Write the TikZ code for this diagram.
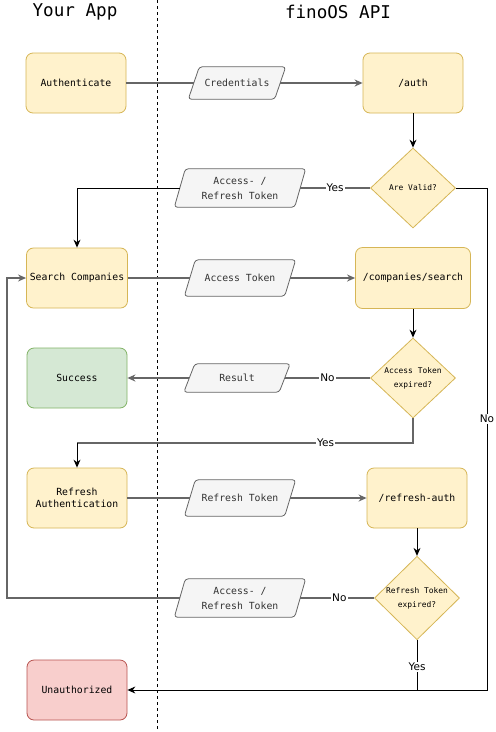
\documentclass[tikz,border=0pt]{standalone}
\usepackage{fontspec}
\setmainfont{DejaVu Sans}
\setmonofont{DejaVu Sans Mono}
\usetikzlibrary{shapes.geometric,arrows.meta,backgrounds}
\definecolor{boxfill}{HTML}{FFF2CC}
\definecolor{boxline}{HTML}{D6B656}
\definecolor{okfill}{HTML}{D5E8D4}
\definecolor{okline}{HTML}{82B366}
\definecolor{errfill}{HTML}{F8CECC}
\definecolor{errline}{HTML}{B85450}
\definecolor{datafill}{HTML}{F5F5F5}
\definecolor{dataline}{HTML}{666666}
\definecolor{datatext}{HTML}{333333}
\tikzset{
  stepbox/.style={draw=boxline, fill=boxfill, rounded corners=7pt, line width=0.8pt,
    minimum width=100pt, minimum height=60pt, align=center,
    font=\ttfamily\fontsize{9.8}{12}\selectfont},
  okbox/.style={stepbox, draw=okline, fill=okfill},
  errbox/.style={stepbox, draw=errline, fill=errfill},
  check/.style={diamond, draw=boxline, fill=boxfill, line width=0.8pt, inner sep=0pt,
    minimum width=85pt, minimum height=80pt, align=center,
    font=\ttfamily\fontsize{7.9}{14}\selectfont},
  data/.style={text=datatext, inner sep=1pt, align=center,
    font=\ttfamily\fontsize{9.8}{15}\selectfont},
  dataframe/.style={draw=dataline, fill=datafill, rounded corners=3pt, line width=0.8pt},
  title/.style={font=\ttfamily\fontsize{17.6}{20}\selectfont},
  flow/.style={draw=dataline, line width=1.3pt, -{Stealth[length=8pt,width=7pt]}},
  link/.style={line width=0.9pt, -{Stealth[length=8pt,width=7pt]}},
  yesno/.style={fill=white, inner sep=1pt, font=\fontsize{10.5}{12}\selectfont}
}
% slanted frame behind a data node
\newcommand{\slantframe}[1]{%
  \begin{pgfonlayer}{background}
    \draw[dataframe] ([xshift=-5.5pt]#1.south west) -- ([xshift=5.5pt]#1.north west)
      -- ([xshift=5.5pt]#1.north east) -- ([xshift=-5.5pt]#1.south east) -- cycle;
  \end{pgfonlayer}}
\begin{document}
\begin{tikzpicture}[x=1pt, y=-1pt]
  \begin{pgfonlayer}{background}
    \fill[white] (0,0) rectangle (496,732);
  \end{pgfonlayer}
  \useasboundingbox (0,0) rectangle (496,732);
  \draw[dashed] (157,0) -- (157,732);
  \node[title] (appTitle) at (75,12) {Your App};
  \node[title] (apiTitle) at (338,12) {finoOS API};

  \node[stepbox] (authenticate) at (76,83) {Authenticate};
  \node[data, minimum width=86pt, minimum height=32pt] (credentials) at (237,83) {Credentials};
  \node[stepbox] (auth) at (413,83) {/auth};
  \node[check] (valid) at (413,188) {Are Valid?};
  \node[data, minimum width=120pt, minimum height=38pt] (tokensA) at (240,188) {Access- /\\Refresh Token};

  \node[stepbox] (search) at (77,278) {Search Companies};
  \node[data, minimum width=100pt, minimum height=36pt] (accessToken) at (240,278) {Access Token};
  \node[stepbox, minimum width=115pt, minimum height=61pt] (companies) at (413,278) {/companies/search};
  \node[check] (accessExpired) at (413,378) {Access Token\\expired?};
  \node[data, minimum width=95pt, minimum height=28pt] (result) at (237,378) {Result};
  \node[okbox] (success) at (77,378) {Success};

  \node[stepbox] (refresh) at (77,498) {Refresh\\Authentication};
  \node[data, minimum width=100pt, minimum height=36pt] (refreshToken) at (240,498) {Refresh Token};
  \node[stepbox] (refreshAuth) at (417,498) {/refresh-auth};
  \node[check] (refreshExpired) at (417,598) {Refresh Token\\expired?};
  \node[data, minimum width=120pt, minimum height=38pt] (tokensB) at (240,598) {Access- /\\Refresh Token};

  \node[errbox] (unauthorized) at (77,690) {Unauthorized};

  \slantframe{credentials}
  \slantframe{tokensA}
  \slantframe{accessToken}
  \slantframe{result}
  \slantframe{refreshToken}
  \slantframe{tokensB}

  \coordinate (rightRail) at (487,690);
  \coordinate (leftRail) at (7,598);
  \coordinate (retry) at (77,443);
  \coordinate (giveUp) at (417,690);

  \draw[flow, -] (authenticate) -- (credentials);
  \draw[flow] (credentials) -- (auth);
  \draw[link] (auth) -- (valid);
  \draw[flow, -] (valid) -- node[yesno] {Yes} (tokensA);
  \draw[link] (tokensA.west) -| (search.north);
  \draw[link] (valid.east) -| node[yesno, pos=0.73] {No} (rightRail) -- (unauthorized.east);

  \draw[flow, -] (search) -- (accessToken);
  \draw[flow] (accessToken) -- (companies);
  \draw[link] (companies) -- (accessExpired);
  \draw[flow, -] (accessExpired) -- node[yesno] {No} (result);
  \draw[flow] (result) -- (success);
  \draw[flow, -] (accessExpired.south) |- node[yesno, pos=0.63] {Yes} (retry);
  \draw[link] (retry) -- (refresh.north);

  \draw[flow, -] (refresh) -- (refreshToken);
  \draw[flow] (refreshToken) -- (refreshAuth);
  \draw[link] (refreshAuth) -- (refreshExpired);
  \draw[flow, -] (refreshExpired) -- node[yesno, pos=0.47] {No} (tokensB);
  \draw[flow] (tokensB.west) -- (leftRail) |- (search.west);
  \draw[line width=0.9pt] (refreshExpired.south) -- node[yesno, pos=0.54] {Yes} (giveUp);
\end{tikzpicture}
\end{document}
